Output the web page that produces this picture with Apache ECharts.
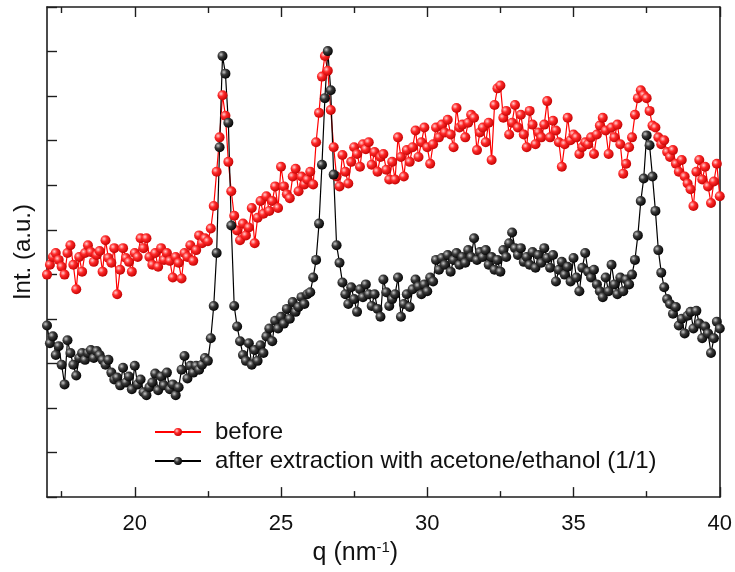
<!DOCTYPE html>
<html>
<head>
<meta charset="utf-8">
<script src="https://cdn.jsdelivr.net/npm/echarts@6/dist/echarts.min.js"></script>
<style>
html,body{margin:0;padding:0;background:#fff;}
#c{width:735px;height:572px;}
</style>
</head>
<body>
<div id="c"></div>
<script>
// q values (nm^-1)
const q = [
17.0,17.1,17.2,17.3,17.4,17.5,17.6,17.7,17.8,17.9,
18.0,18.1,18.2,18.3,18.4,18.5,18.6,18.7,18.8,18.9,
19.0,19.1,19.2,19.3,19.4,19.5,19.6,19.7,19.8,19.9,
20.0,20.1,20.2,20.3,20.4,20.5,20.6,20.7,20.8,20.9,
21.0,21.1,21.2,21.3,21.4,21.5,21.6,21.7,21.8,21.9,
22.0,22.1,22.2,22.3,22.4,22.5,22.6,22.7,22.8,22.9,
23.0,23.1,23.2,23.3,23.4,23.5,23.6,23.7,23.8,23.9,
24.0,24.1,24.2,24.3,24.4,24.5,24.6,24.7,24.8,24.9,
25.0,25.1,25.2,25.3,25.4,25.5,25.6,25.7,25.8,25.9,
26.0,26.1,26.2,26.3,26.4,26.5,26.6,26.7,26.8,26.9,
27.0,27.1,27.2,27.3,27.4,27.5,27.6,27.7,27.8,27.9,
28.0,28.1,28.2,28.3,28.4,28.5,28.6,28.7,28.8,28.9,
29.0,29.1,29.2,29.3,29.4,29.5,29.6,29.7,29.8,29.9,
30.0,30.1,30.2,30.3,30.4,30.5,30.6,30.7,30.8,30.9,
31.0,31.1,31.2,31.3,31.4,31.5,31.6,31.7,31.8,31.9,
32.0,32.1,32.2,32.3,32.4,32.5,32.6,32.7,32.8,32.9,
33.0,33.1,33.2,33.3,33.4,33.5,33.6,33.7,33.8,33.9,
34.0,34.1,34.2,34.3,34.4,34.5,34.6,34.7,34.8,34.9,
35.0,35.1,35.2,35.3,35.4,35.5,35.6,35.7,35.8,35.9,
36.0,36.1,36.2,36.3,36.4,36.5,36.6,36.7,36.8,36.9,
37.0,37.1,37.2,37.3,37.4,37.5,37.6,37.7,37.8,37.9,
38.0,38.1,38.2,38.3,38.4,38.5,38.6,38.7,38.8,38.9,
39.0,39.1,39.2,39.3,39.4,39.5,39.6,39.7,39.8,39.9,
40.0
];
// Intensity (a.u.) – "before"
const before = [
227,237,245,249,242,235,227,249,257,237,
212,245,230,249,257,250,240,247,251,230,
262,244,239,254,207,232,254,244,240,230,
249,245,264,254,264,245,237,249,235,254,
242,249,241,224,245,239,223,249,245,257,
241,252,267,259,264,261,274,297,332,367,
410,389,342,312,287,272,262,279,267,275,
295,259,285,302,289,307,292,302,317,295,
337,317,309,305,327,335,312,327,319,324,
332,319,362,392,429,450,435,395,357,327,
317,349,332,320,342,357,350,337,360,355,
362,339,352,332,347,350,334,324,342,324,
367,347,327,354,342,357,374,347,362,377,
357,340,360,377,367,380,372,385,370,357,
397,377,380,367,382,390,387,354,372,377,
362,382,344,400,417,420,387,394,370,382,
400,377,390,370,357,394,380,360,372,367,
380,404,367,384,374,362,337,360,387,364,
370,367,350,357,362,360,367,350,370,379,
387,374,350,377,367,380,360,330,340,357,
367,390,407,415,410,407,394,379,377,367,
360,364,352,347,354,340,332,344,327,320,
314,297,332,344,324,337,317,300,322,340,
307
];
// Intensity (a.u.) – "after extraction"
const after = [
175,157,164,145,154,135,115,160,147,135,
124,142,147,140,147,150,142,149,145,140,
135,140,127,120,122,114,132,117,123,110,
134,115,120,107,104,112,117,126,109,123,
114,127,110,115,104,112,130,144,121,134,
127,134,130,135,142,139,162,195,249,357,
450,432,382,277,195,174,159,145,139,157,
135,150,139,155,147,164,172,159,180,172,
184,177,192,182,199,189,194,204,197,207,
209,224,242,279,339,407,455,415,329,257,
239,219,207,197,214,202,189,212,204,217,
207,195,207,192,184,222,209,195,202,207,
224,184,197,207,194,212,222,215,207,217,
210,224,220,242,232,244,237,247,230,242,
249,237,245,239,252,245,264,242,250,245,
252,237,245,232,242,230,252,245,259,270,
254,247,254,240,245,237,250,234,247,239,
254,244,234,247,220,232,240,227,235,220,
244,224,210,234,249,230,224,232,217,210,
204,224,210,237,217,207,224,210,222,217,
227,242,267,302,325,369,359,327,292,252,
229,214,202,197,187,194,175,182,167,185,
189,172,190,177,162,174,167,147,162,179,
172
];
const seriesNames = ['before', 'after extraction with acetone/ethanol (1/1)'];
const xMajorTicks = [20, 25, 30, 35, 40];
const xMinorTicks = [17.5, 22.5, 27.5, 32.5, 37.5];
const xRange = [17, 40];
const yRange = [0, 500];
const yTickRange = [0, 11];

const FONT = 'Liberation Sans, Arial, sans-serif';
const AX = '#1e1e1e';

const redBall = {type:'radial', x:0.35, y:0.35, r:0.7, colorStops:[
  {offset:0, color:'#ffd0d0'}, {offset:0.4, color:'#ff2a2a'}, {offset:1, color:'#c00000'}]};
const blackBall = {type:'radial', x:0.35, y:0.35, r:0.7, colorStops:[
  {offset:0, color:'#c8c8c8'}, {offset:0.4, color:'#3a3a3a'}, {offset:1, color:'#000000'}]};

function mkAxisX(pos, ticks, len, showLine, showLabel){
  return {
    type:'value', position:pos, min:xRange[0], max:xRange[1],
    axisLine:{show:showLine, onZero:false, lineStyle:{color:AX, width:1.6}},
    axisTick:{show:true, inside:true, length:len, customValues:ticks, lineStyle:{color:AX, width:1.4}},
    axisLabel:{show:showLabel, customValues:ticks, fontSize:22, margin:16, color:'#111', fontFamily:FONT},
    splitLine:{show:false}
  };
}

const xAxes = [
  Object.assign(mkAxisX('bottom', xMajorTicks, 10, true, true), {
    name:'q (nm{sup|-1})', nameLocation:'middle', nameGap:35,
    nameTextStyle:{fontSize:25, color:'#111', fontFamily:FONT, lineHeight:27, padding:[0,56,0,0],
      rich:{sup:{fontSize:15, verticalAlign:'top', lineHeight:27, color:'#111', fontFamily:FONT}}}
  }),
  mkAxisX('bottom', xMinorTicks, 6, false, false),
  mkAxisX('top', xMajorTicks, 10, true, false),
  mkAxisX('top', xMinorTicks, 6, false, false)
];

const yAxes = [
  {type:'value', position:'left', min:yRange[0], max:yRange[1],
   axisLine:{show:true, onZero:false, lineStyle:{color:AX, width:1.6}},
   axisTick:{show:false}, axisLabel:{show:false}, splitLine:{show:false},
   name:'Int. (a.u.)', nameLocation:'middle', nameGap:12, nameRotate:90,
   nameTextStyle:{fontSize:24, color:'#111', fontFamily:FONT}},
  {type:'value', position:'left', min:yTickRange[0], max:yTickRange[1], interval:1,
   axisLine:{show:false}, axisTick:{show:true, inside:true, length:10, lineStyle:{color:AX, width:1.4}},
   axisLabel:{show:false}, splitLine:{show:false}},
  {type:'value', position:'right', min:yRange[0], max:yRange[1],
   axisLine:{show:true, onZero:false, lineStyle:{color:AX, width:1.6}},
   axisTick:{show:false}, axisLabel:{show:false}, splitLine:{show:false}}
];

const option = {
  animation:false,
  backgroundColor:'#fff',
  grid:{left:47, right:14, top:7, bottom:65, containLabel:false},
  legend:{
    orient:'vertical', left:149, top:415, itemWidth:46, itemHeight:10, itemGap:5,
    textStyle:{fontSize:24, color:'#111', fontFamily:FONT, padding:[0,0,0,9]},
    data:seriesNames
  },
  xAxis:xAxes,
  yAxis:yAxes,
  series:[
    {name:seriesNames[0], type:'line', xAxisIndex:0, yAxisIndex:0,
     data:q.map((x,i)=>[x, before[i]]),
     symbol:'circle', symbolSize:10, showSymbol:true, showAllSymbol:true,
     lineStyle:{color:'#ff0000', width:1.2},
     itemStyle:{color:redBall, borderWidth:0}},
    {name:seriesNames[1], type:'line', xAxisIndex:0, yAxisIndex:0,
     data:q.map((x,i)=>[x, after[i]]),
     symbol:'circle', symbolSize:10, showSymbol:true, showAllSymbol:true,
     lineStyle:{color:'#000000', width:1.2},
     itemStyle:{color:blackBall, borderWidth:0}}
  ]
};
const chart = echarts.init(document.getElementById('c'));
chart.setOption(option);
</script>
</body>
</html>
